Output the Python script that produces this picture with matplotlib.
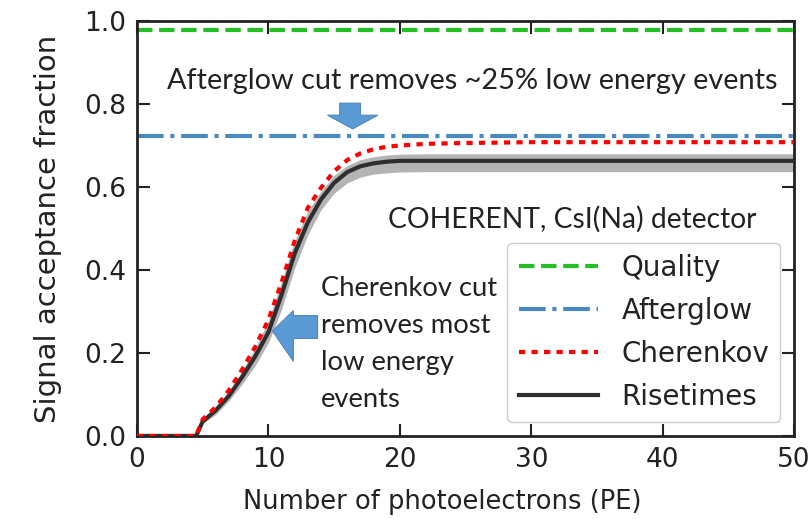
import matplotlib
matplotlib.use("Agg")
import matplotlib.pyplot as plt
from matplotlib.patches import Polygon

# ---- data ----
pe = [0, 4.5, 5, 6, 7, 8, 9, 10, 11, 12, 13, 14, 15, 16, 17, 18, 19, 20, 22, 25, 30, 50]
risetimes = [0, 0, 0.035, 0.062, 0.097, 0.142, 0.192, 0.25, 0.34, 0.44, 0.515, 0.57,
             0.61, 0.636, 0.65, 0.657, 0.661, 0.663, 0.663, 0.663, 0.663, 0.663]
rise_upper = [0, 0, 0.04, 0.07, 0.107, 0.157, 0.212, 0.278, 0.372, 0.47, 0.542, 0.59,
              0.628, 0.652, 0.666, 0.673, 0.677, 0.679, 0.68, 0.68, 0.68, 0.68]
rise_lower = [0, 0, 0.03, 0.052, 0.085, 0.125, 0.17, 0.225, 0.305, 0.405, 0.485, 0.545,
              0.585, 0.61, 0.624, 0.631, 0.634, 0.636, 0.637, 0.637, 0.637, 0.637]
cherenkov = [0, 0, 0.04, 0.07, 0.11, 0.16, 0.215, 0.28, 0.37, 0.47, 0.55, 0.598,
             0.638, 0.665, 0.681, 0.691, 0.697, 0.700, 0.704, 0.706, 0.708, 0.708]
quality_level = 0.978
afterglow_level = 0.722

x_ticks = [0, 10, 20, 30, 40, 50]
y_ticks = [0.0, 0.2, 0.4, 0.6, 0.8, 1.0]
legend_labels = ["Quality", "Afterglow", "Cherenkov", "Risetimes"]

# ---- figure ----
fig = plt.figure(figsize=(8.12, 5.19), dpi=100)
ax = fig.add_axes([0.1687, 0.160, 0.8093, 0.7995])

fs = 19
ax.plot([0, 50], [quality_level] * 2, color="#22c022", lw=3, ls="--", label=legend_labels[0])
ax.plot([0, 50], [afterglow_level] * 2, color="#4a88c2", lw=3, ls="-.", label=legend_labels[1])
ax.fill_between(pe, rise_lower, rise_upper, color="#b4b4b4", lw=0, zorder=2)
ax.plot(pe, cherenkov, color="red", lw=3, ls=(0, (1.5, 1.5)), label=legend_labels[2], zorder=4)
ax.plot(pe, risetimes, color="#2e2e2e", lw=3, label=legend_labels[3], zorder=3)

ax.set_xlim(0, 50)
ax.set_ylim(0, 1.0)
ax.set_xticks(x_ticks)
ax.set_yticks(y_ticks)
ax.set_xticklabels([str(t) for t in x_ticks])
ax.set_yticklabels([f"{t:.1f}" for t in y_ticks])
ax.tick_params(direction="in", length=9, width=1.5, top=True, right=True,
               labelsize=fs, pad=8, colors="#222222")
for s in ax.spines.values():
    s.set_linewidth(2)
    s.set_color("#222222")
ax.set_xlabel("Number of photoelectrons (PE)", fontsize=18.5, color="#222222")
ax.xaxis.set_label_coords(0.464, -0.128)
ax.set_ylabel("Signal acceptance fraction", fontsize=21, color="#222222")
ax.yaxis.set_label_coords(-0.114, 0.5)

leg = ax.legend(loc="lower right", fontsize=20, handlelength=2.85, handletextpad=0.85,
                borderaxespad=0.5, labelspacing=0.54, framealpha=1, edgecolor="#cccccc")
for t in leg.get_texts():
    t.set_color("#222222")

# ---- annotations ----
ax.text(2.29, 0.836, "Afterglow cut removes ~25% low energy events", family="Lato",
        fontsize=20.8, va="baseline", ha="left", color="#222222")
ax.text(19.1, 0.501, "COHERENT, CsI(Na) detector", family="Lato",
        fontsize=20.3, va="baseline", ha="left", color="#222222")
cher_lines = ["Cherenkov cut", "removes most", "low energy", "events"]
cher_base = [0.337, 0.248, 0.159, 0.070]
for s, yb in zip(cher_lines, cher_base):
    ax.text(13.97, yb, s, family="Lato", fontsize=19.7, va="baseline", ha="left",
            color="#222222")

arrow_color = "#5b9bd5"
down_arrow = [(15.42, 0.802), (17.0, 0.802), (17.0, 0.773), (18.32, 0.773),
              (16.41, 0.740), (14.5, 0.773), (15.42, 0.773)]
left_arrow = [(13.74, 0.29), (13.74, 0.235), (11.9, 0.235), (11.9, 0.18),
              (10.3, 0.253), (11.9, 0.302), (11.9, 0.29)]
ax.add_patch(Polygon(down_arrow, closed=True, facecolor=arrow_color, edgecolor="#4f88bb",
                     lw=0.8, zorder=6))
ax.add_patch(Polygon(left_arrow, closed=True, facecolor=arrow_color, edgecolor="#4f88bb",
                     lw=0.8, zorder=6))

fig.savefig("out.png", dpi=100)
